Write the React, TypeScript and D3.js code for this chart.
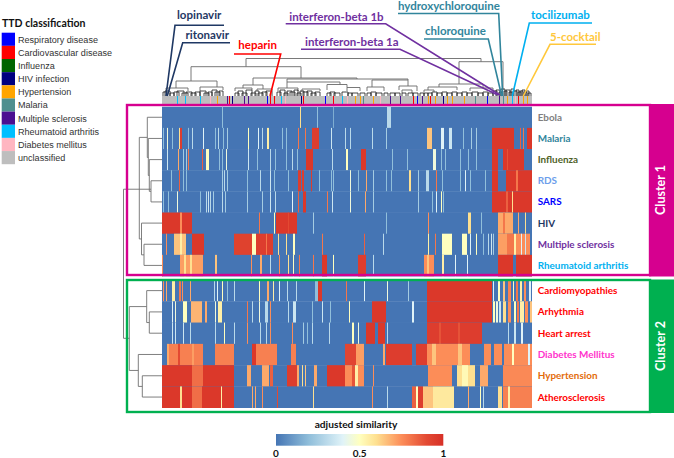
import React from "react";
import * as d3 from "d3";

type Run = [number, number, number];

// heatmap runs: [first column, end column, adjusted similarity], the rest of a row is 0
const ebola: Run[] = [[60,61,.2],[138,139,.6],[155,156,.2],[171,172,.15],[225,229,.3]];
const malaria: Run[] = [[1,2,.2],[5,6,.45],[10,11,.2],[17,18,.6],[18,20,.95],[26,27,.2],[30,31,.3],[41,42,.4],[53,54,.2],[56,57,.3],[61,62,.2],[65,66,.25],[86,87,.5],[96,97,.4],[100,101,.3],[105,107,.55],[120,121,.2],[124,125,.2],[136,137,.8],[143,144,.8],[150,157,.95],[169,170,.35],[183,184,.3],[188,189,.3],[210,211,.3],[224,225,.25],[265,270,.65],[279,282,.4],[287,290,.35],[301,302,.2],[309,310,.25],[314,315,.25],[330,352,.97],[358,359,.85],[361,362,.8],[365,370,.97]];
const influenza: Run[] = [[5,6,.35],[16,17,.7],[21,22,.25],[24,25,.25],[26,27,.8],[40,41,.85],[44,47,.5],[57,58,.2],[60,61,.2],[64,65,.45],[86,87,.35],[95,96,.2],[108,109,.3],[113,114,.2],[124,125,.2],[130,131,.3],[135,136,.2],[144,151,.97],[170,171,.3],[184,186,.5],[199,204,.97],[230,231,.2],[245,246,.2],[271,274,.45],[279,280,.2],[283,284,.2],[298,299,.2],[306,307,.2],[314,315,.2],[330,336,.97],[341,362,.97],[345,346,.88]];
const rds: Run[] = [[9,10,.2],[17,18,.85],[21,22,.2],[24,25,.2],[60,61,.25],[62,63,.3],[65,66,.25],[85,86,.2],[98,99,.3],[108,109,.35],[112,113,.2],[126,127,.2],[136,139,.95],[140,142,.95],[149,150,.95],[157,158,.2],[169,170,.2],[171,172,.2],[188,189,.45],[196,197,.2],[204,205,.7],[211,212,.25],[224,225,.2],[229,230,.2],[247,249,.6],[256,257,.25],[264,267,.3],[274,275,.8],[280,281,.2],[298,299,.2],[303,304,.4],[308,309,.2],[323,324,.2],[330,336,.97],[344,370,.97],[354,356,.8]];
const sars: Run[] = [[1,2,.2],[6,7,.2],[15,16,.45],[38,39,.2],[44,45,.3],[46,47,.35],[48,49,.3],[51,52,.25],[60,61,.3],[63,64,.25],[85,86,.25],[100,101,.25],[108,109,.35],[113,114,.3],[130,131,.4],[136,137,.85],[141,144,.97],[165,166,.8],[170,171,.35],[188,189,.45],[203,204,.7],[211,212,.25],[256,257,.25],[270,271,.2],[274,275,.4],[279,280,.5],[281,282,.2],[330,370,.97],[344,346,.85],[350,351,.6]];
const hiv: Run[] = [[0,30,.97],[18,20,.75],[97,98,.8],[112,113,.5],[114,135,.97],[126,127,.9],[151,152,.25],[224,225,.2],[266,267,.75],[306,309,.6],[319,320,.2],[336,351,.7],[341,343,.8],[356,357,.7],[363,364,.6]];
const ms: Run[] = [[4,5,.75],[12,24,.65],[18,20,.55],[30,42,.97],[72,90,.93],[90,94,.5],[94,111,.95],[104,105,.8],[116,117,.6],[124,125,.6],[131,133,.5],[160,161,.8],[202,203,.85],[221,222,.3],[266,267,.55],[273,274,.8],[280,290,.5],[300,305,.5],[308,309,.4],[314,315,.5],[321,322,.2],[326,327,.3],[329,330,.35],[331,332,.25],[336,345,.72],[345,352,.8],[352,354,.55],[354,368,.75],[359,360,.4],[363,364,.35]];
const ra: Run[] = [[0,1,.75],[18,41,.72],[22,24,.6],[28,30,.6],[53,55,.65],[89,90,.75],[98,100,.7],[108,109,.3],[117,118,.75],[126,127,.6],[131,132,.5],[137,138,.8],[151,152,.8],[160,165,.97],[171,172,.5],[196,204,.95],[211,212,.3],[262,272,.75],[265,267,.65],[280,282,.55],[293,294,.4],[305,306,.4],[336,351,.97],[354,370,.97]];
const cardiomyopathies: Run[] = [[1,2,.75],[4,5,.7],[10,13,.55],[17,19,.8],[20,21,.75],[28,29,.7],[52,53,.3],[55,56,.4],[60,61,.5],[65,66,.2],[72,73,.3],[97,98,.5],[105,107,.7],[111,112,.55],[117,118,.4],[125,126,.3],[134,135,.3],[153,156,.2],[156,160,.97],[184,185,.8],[202,203,.4],[225,226,.45],[246,247,.25],[265,330,.97],[331,332,.4],[336,338,.5],[341,343,.65],[346,349,.78],[351,352,.5],[354,356,.8],[358,360,.55],[362,364,.75],[367,369,.4]];
const arrhythmia: Run[] = [[10,11,.4],[13,14,.45],[21,25,.5],[29,40,.68],[43,45,.7],[53,54,.45],[56,60,.55],[85,86,.8],[90,91,.3],[97,98,.45],[103,106,.3],[108,109,.75],[126,127,.3],[131,134,.35],[150,151,.2],[160,161,.35],[168,169,.2],[187,188,.5],[210,224,.97],[250,252,.4],[265,330,.97],[331,333,.5],[334,336,.45],[337,339,.35],[341,344,.6],[346,349,.75],[352,354,.5],[355,357,.8],[358,362,.55],[363,366,.75],[368,370,.65]];
const heartArrest: Run[] = [[10,11,.35],[13,14,.35],[21,22,.35],[28,29,.3],[53,54,.3],[62,63,.5],[72,73,.3],[85,86,.75],[98,99,.3],[104,105,.3],[108,109,.75],[130,131,.75],[141,142,.25],[145,146,.2],[150,151,.3],[167,168,.3],[190,192,.5],[196,197,.45],[204,213,.97],[216,223,.97],[225,226,.3],[265,320,.95],[277,279,.88],[296,298,.88],[346,347,.3],[352,354,.35],[359,361,.4]];
const diabetes: Run[] = [[5,7,.7],[7,41,.78],[16,18,.9],[30,32,.72],[53,72,.78],[90,94,.97],[94,115,.78],[129,134,.78],[183,194,.92],[194,202,.72],[221,223,.7],[224,250,.95],[254,265,.95],[265,308,.75],[270,274,.65],[296,300,.65],[322,329,.75],[332,340,.75],[342,370,.75],[350,352,.5],[366,368,.4]];
const hypertension: Run[] = [[0,30,.97],[30,41,.82],[41,72,.97],[85,89,.7],[100,107,.7],[108,111,.85],[125,135,.95],[135,137,.7],[140,141,.6],[143,144,.65],[152,155,.7],[165,183,.97],[183,190,.75],[190,193,.88],[193,196,.55],[196,202,.75],[211,212,.75],[266,290,.75],[295,313,.6],[300,306,.52],[318,326,.7],[341,370,.76]];
const atherosclerosis: Run[] = [[0,18,.97],[18,20,.6],[20,30,.97],[30,40,.82],[40,72,.97],[59,60,.55],[90,91,.7],[93,94,.7],[100,101,.75],[115,116,.9],[151,152,.6],[210,211,.75],[225,226,.3],[250,254,.85],[254,256,.5],[256,261,.95],[261,271,.65],[271,292,.57],[306,307,.7],[318,319,.5],[321,322,.3],[336,340,.6],[341,370,.78],[346,348,.55]];

const rowNames = ["Ebola","Malaria","Influenza","RDS","SARS","HIV","Multiple sclerosis","Rheumatoid arthritis","Cardiomyopathies","Arhythmia","Heart arrest","Diabetes Mellitus","Hypertension","Atherosclerosis"];
const rowColors = ["#7f7f7f","#31859c","#4f6228","#6d9eeb","#0000ff","#1f3864","#7030a0","#00b0f0","#ff0000","#ff0000","#ff0000","#ff33cc","#e36c0a","#ff0000"];
const rowRuns = [ebola,malaria,influenza,rds,sars,hiv,ms,ra,cardiomyopathies,arrhythmia,heartArrest,diabetes,hypertension,atherosclerosis];

const legendNames = ["Respiratory disease","Cardiovascular disease","Influenza","HIV infection","Hypertension","Malaria","Multiple sclerosis","Rheumatoid arthritis","Diabetes mellitus","unclassified"];
const legendColors = ["#0000ff","#ff0000","#006400","#000080","#ffa500","#4f8f8f","#4b0f91","#00bfff","#ffb6c1","#bebebe"];

// column annotation: [column, index into legendColors]
const colClasses: [number, number][] = [[15,7],[23,7],[38,7],[48,8],[55,4],[65,6],[67,1],[70,3],[82,6],[86,6],[105,0],[108,1],[112,1],[119,7],[123,8],[139,3],[141,1],[163,0],[171,1],[180,7],[185,8],[193,4],[198,4],[201,5],[211,4],[218,8],[228,6],[238,6],[251,1],[255,0],[260,6],[266,4],[268,1],[273,4],[281,3],[285,4],[290,4],[302,4],[313,5],[325,0],[337,6],[341,5],[345,4],[350,7],[353,8],[356,1],[361,4],[365,4]];

// top dendrogram: [left col, right col, height, left child height, right child height]
const topMerges: number[][] = [
  [84,319,37.5,29.3,34.3],[29,139,29.3,15,18],[297,341,34.3,12,6],
  [14,55,15,8,9],[91,195,18,11,17],[4,26,8,5,5],[38,61,9,5,6],
  [81,101,11,8,7],[125,246,17,14,16],[125,178,14,8,11.5],[210,246,16,9,10],
  [165,185,11.5,6,8.5],[185,198,8.5,5,5],[237,255,10,6,5],[205,222,9,5,5],
  [73,90,8,5,6],[95,110,7,5,5],[116,136,8,5,5],[140,158,7,4,5],
  [277,321,12,9,8],[266,295,9,6,6],[308,331,8,5,5],[262,272,6,4,4],[240,250,6,3,3]
];
// small bottom clusters: [left col, right col, height]
const twigs: number[][] = [
  [1,5,4],[3,8,5],[8,12,3],[12,17,4],[15,22,5],[20,26,3],[24,30,4],[29,34,3],[33,38,4],[38,44,5],[42,47,3],[46,50,4],[50,55,6],[53,58,4],[57,61,5],
  [73,77,3],[76,81,5],[80,85,3],[84,90,6],[89,94,3],[93,97,5],[96,101,3],[100,105,4],[104,110,5],
  [115,119,4],[118,123,6],[122,126,3],[125,130,5],[128,133,4],[132,136,6],[135,139,3],[138,142,5],[141,146,4],[145,150,5],[149,154,3],[153,158,4],
  [165,169,3],[168,173,4],[172,178,3],[180,186,4],[186,190,3],[190,196,3],[198,203,3],[205,209,3],[209,214,4],[214,220,3],[222,226,3],[228,233,3],[233,238,3],[240,244,3],[246,251,3],[251,256,3],
  [258,262,3],[262,266,3],[266,270,3],[270,275,4],[275,280,3],[280,285,4],[285,290,3],[290,295,4],[295,300,3],[300,305,4],[305,310,3],[310,316,4],[316,321,3],[321,326,4],[326,331,3],
  [331,335,5],[334,338,6],[337,340,4],[339,343,7],[342,345,5],[344,348,6],[347,350,4],[349,352,7],[351,355,5],[354,357,6],[356,359,4],[358,361,5],[360,363,6],[362,365,4],[364,367,5],[366,369,3]
];

// row dendrogram: [distance from heatmap, first row position, second row position]
const rowMerges: number[][] = [
  [11,3,4],[12.7,2,3.5],[13.7,1,2.75],[14.7,0,1.9],[18,6,7],[20.5,5,6.5],[22.7,.95,5.75],
  [12.7,9,10],[15.3,8,9.5],[19.7,12,13],[23.7,11,12.5],[32.7,8.75,11.75],[38.5,3.4,10.24]
];

const colorStops = [0,.2,.4,.5,.6,.75,.9,1];
const colorValues = ["#4575b4","#91bfdb","#e0f3f8","#ffffbf","#fee090","#fc8d59","#e34a33","#d73027"];
const legendTicks = [0,.5,1];

const labels = [
  { text: "lopinavir", x: 177, y: 18.5, color: "#1f3864", line: [[224,25.3],[175,25.3],[166,96]] },
  { text: "ritonavir", x: 185.5, y: 39, color: "#1f3864", line: [[230,42.7],[182.7,42.7],[167.3,96]] },
  { text: "heparin", x: 238.3, y: 49.3, color: "#ff0000", line: [[234,54],[280.7,54],[270,96]] },
  { text: "interferon-beta 1b", x: 289.3, y: 20.7, color: "#7030a0", line: [[285.7,23.7],[385.7,23.7],[500,95]] },
  { text: "interferon-beta 1a", x: 305, y: 45.7, color: "#7030a0", line: [[301,49.3],[400,49.3],[498,95]] },
  { text: "hydroxychloroquine", x: 398, y: 9.5, color: "#31859c", line: [[398,13.5],[498.7,13.5],[502.7,96]] },
  { text: "chloroquine", x: 425, y: 35, color: "#31859c", line: [[424,39],[488.3,39],[501.7,96]] },
  { text: "tocilizumab", x: 531, y: 19, color: "#00b0f0", line: [[592,23],[529.3,23],[512.3,96]] },
  { text: "5-cocktail", x: 550, y: 40.7, color: "#ffc83c", line: [[596,44.3],[550,44.3],[523.3,96]] },
];

const nCols = 370;
const x = d3.scaleLinear().domain([0, nCols]).range([162, 532]);
const color = d3.scaleLinear<string>().domain(colorStops).range(colorValues);
// row position to y, the two clusters have a small gap between them
const y = d3.scaleLinear().domain([-0.5, 7.5, 7.501, 13.5]).range([106.7, 276, 280, 407.7]);
const topY = d3.scaleLinear().domain([0, 37.5]).range([96, 58.5]);
const heatLeft = x(0);
const barX = d3.scaleLinear().domain([0, 1]).range([276, 443.3]);
const FONT = "Lato, sans-serif";

export default function App() {
  const line = d3.line();
  return (
    <svg width={674} height={458} style={{ position: "absolute", left: 0, top: 0, background: "#fff" }}>
      <defs>
        <linearGradient id="bar">
          {d3.range(0, 1.001, 0.05).map((t) => (
            <stop key={t} offset={t} stopColor={color(t)} />
          ))}
        </linearGradient>
        {/* the source is a soft raster, columns bleed into each other */}
        <filter id="soft" filterUnits="userSpaceOnUse" x={0} y={0} width={674} height={458}>
          <feGaussianBlur stdDeviation="0.5 0.1" />
        </filter>
        <clipPath id="heatClip">
          <rect x={x(0)} y={96} width={x(nCols) - x(0)} height={312} />
        </clipPath>
      </defs>

      {/* legend */}
      <text x={2} y={27} fontFamily={FONT} fontWeight={700} fontSize={10.5} fill="#111">TTD classification</text>
      {legendNames.map((name, i) => (
        <g key={name}>
          <rect x={1.7} y={32.7 + i * 13.15} width={13.3} height={13.15} fill={legendColors[i]} />
          <text x={18} y={42.7 + i * 13.15} fontFamily="'Liberation Sans', Arial, sans-serif" fontSize={9.05} fill="#333">{name}</text>
        </g>
      ))}

      {/* top dendrogram */}
      <g fill="none" stroke="#6a6a6a" strokeWidth={0.9}>
        {topMerges.map((m, i) => (
          <path key={i} d={line([[x(m[0]), topY(m[3])], [x(m[0]), topY(m[2])], [x(m[1]), topY(m[2])], [x(m[1]), topY(m[4])]]) ?? ""} />
        ))}
      </g>
      <g fill="none" stroke="#1a1a1a" strokeWidth={0.8}>
        {twigs.map((m, i) => (
          <path key={i} d={line([[x(m[0]), topY(0)], [x(m[0]), topY(m[2])], [x(m[1]), topY(m[2])], [x(m[1]), topY(0)]]) ?? ""} />
        ))}
      </g>

      <g clipPath="url(#heatClip)">
        {/* column annotation */}
        <rect x={x(0)} y={96} width={x(nCols) - x(0)} height={9.5} fill="#bebebe" />
        {colClasses.map(([c, k], i) => (
          <rect key={i} x={x(c)} y={96} width={x(c + 1) - x(c)} height={9.5} fill={legendColors[k]} />
        ))}

        {/* heatmap */}
        <g filter="url(#soft)">
          {rowRuns.map((runs, r) => {
            const top = y(r - 0.499);
            const h = y(r + 0.5) - top;
            return (
              <g key={r}>
                <rect x={x(-4)} y={top} width={x(nCols + 4) - x(-4)} height={h + 0.4} fill={color(0)} />
                {runs.map(([a, b, v], i) => (
                  <rect key={i} x={x(a)} y={top} width={x(b) - x(a)} height={h + 0.4} fill={color(v)} />
                ))}
              </g>
            );
          })}
        </g>
      </g>

      {/* row dendrogram */}
      <g fill="none" stroke="#707070" strokeWidth={0.9}>
        {rowMerges.map((m, i) => {
          const px = heatLeft - m[0];
          const end = (p: number) => {
            const kid = rowMerges.find((k) => Math.abs((k[1] + k[2]) / 2 - p) < 0.2 && k[0] < m[0]);
            return kid ? heatLeft - kid[0] : heatLeft;
          };
          return (
            <path key={i} d={line([[end(m[1]), y(m[1])], [px, y(m[1])], [px, y(m[2])], [end(m[2]), y(m[2])]]) ?? ""} />
          );
        })}
      </g>

      {/* row labels */}
      {rowNames.map((name, r) => (
        <text key={name} x={537.7} y={y(r) + 3.5} fontFamily={FONT} fontWeight={700} fontSize={9.9} fill={rowColors[r]}>{name}</text>
      ))}

      {/* cluster frames */}
      <rect x={127} y={105} width={523} height={170} fill="none" stroke="#d6008f" strokeWidth={2.4} />
      <rect x={649} y={104} width={25} height={172.5} fill="#d6008f" />
      <text transform="translate(665,190) rotate(-90)" textAnchor="middle" fontFamily={FONT} fontWeight={700} fontSize={12.5} fill="#fff">Cluster 1</text>
      <rect x={127} y={280} width={523} height={132} fill="none" stroke="#00b050" strokeWidth={2.4} />
      <rect x={649} y={279.5} width={25} height={133.5} fill="#00b050" />
      <text transform="translate(665,346) rotate(-90)" textAnchor="middle" fontFamily={FONT} fontWeight={700} fontSize={12.5} fill="#fff">Cluster 2</text>

      {/* drug labels */}
      {labels.map((l) => (
        <g key={l.text}>
          <path d={line(l.line as [number, number][]) ?? ""} fill="none" stroke={l.color} strokeWidth={1.6} />
          <text x={l.x} y={l.y} fontFamily={FONT} fontWeight={700} fontSize={11.5} fill={l.color}>{l.text}</text>
        </g>
      ))}

      {/* colour bar */}
      <text x={356} y={427.5} textAnchor="middle" fontFamily={FONT} fontWeight={700} fontSize={10.2} fill="#111">adjusted similarity</text>
      <rect x={barX(0)} y={434} width={barX(1) - barX(0)} height={11.7} fill="url(#bar)" />
      {legendTicks.map((t) => (
        <text key={t} x={barX(t)} y={456.5} textAnchor="middle" fontFamily={FONT} fontWeight={700} fontSize={10} fill="#111">{t}</text>
      ))}
    </svg>
  );
}
